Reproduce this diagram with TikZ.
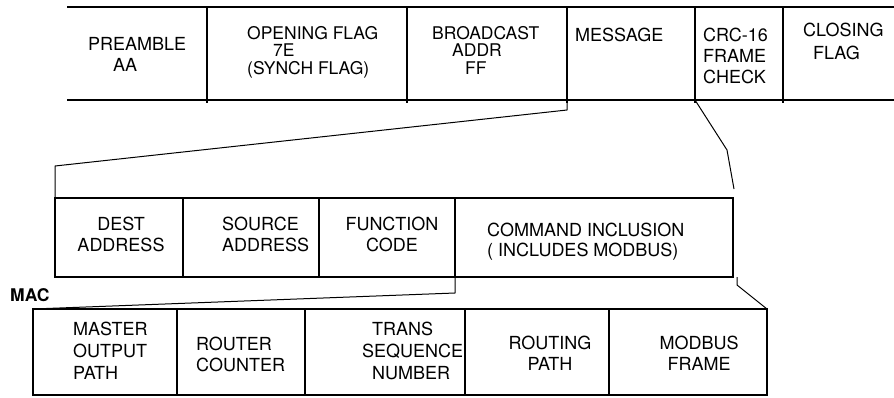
\documentclass[tikz,border=0pt]{standalone}
\usepackage{fontspec}
\setmainfont{TeX Gyre Heros}
\tikzset{
cell/.style={draw, line width=1.3pt, anchor=north west, inner sep=0pt, outer sep=0pt},
txt/.style={font=\fontsize{18}{#1}\selectfont, align=left, inner sep=0pt, anchor=north west},
txt/.default=21,
link/.style={line width=1pt, line join=round},
}
\begin{document}
\begin{tikzpicture}[x=1pt, y=-1pt]
\useasboundingbox (0,0) rectangle (894,397);
% frame on the wire
\draw[line width=1.5pt] (67,7) -- (894,7) (67,100) -- (894,100);
\foreach \x in {207,407,567,695,783}
\draw[line width=1.5pt] (\x,7) -- (\x,103);
\coordinate (msg) at (567,100);
\coordinate (crc) at (695,100);
\node[txt] (pre) at (88,37) {PREAMBLE\\\hspace*{25pt}AA};
\node[txt, font=\fontsize{17.5}{17.5}\selectfont] (oflag) at (247,26) {OPENING FLAG\\\hspace*{26pt}7E\\(SYNCH FLAG)};
\node[txt, font=\fontsize{17.5}{17.5}\selectfont] (bcast) at (432,26) {BROADCAST\\\hspace*{20pt}ADDR\\\hspace*{33pt}FF};
\node[txt] (msgT) at (575,28) {MESSAGE};
\node[txt] (crcT) at (703,28) {CRC-16\\FRAME\\CHECK};
\node[txt=23] (cflag) at (803,23) {CLOSING\\\hspace*{10pt}FLAG};
% message fields
\foreach \n/\a/\b in {dest/55/183,src/183/319,fcode/319/455,cmd/455/733}
\node[cell, minimum width={(\b-\a)*1pt}, minimum height=79pt] (\n) at (\a,198) {};
\node[txt, align=center, anchor=north] (destT) at (121,217) {DEST\\ADDRESS};
\node[txt] (srcT) at (222,217) {SOURCE\\ADDRESS};
\node[txt, align=center, anchor=north] (fcodeT) at (392,217) {FUNCTION\\CODE};
\node[txt=20] (cmdT) at (487,223) {COMMAND INCLUSION\\( INCLUDES MODBUS)};
% MAC fields
\foreach \n/\a/\b in {mop/33/177,rcnt/177/305,tsn/305/465,rpath/465/609,mframe/609/767}
\node[cell, minimum width={(\b-\a)*1pt}, minimum height=86pt] (\n) at (\a,309) {};
\node[txt=22] (mopT) at (73,322) {MASTER\\OUTPUT\\PATH};
\node[txt] (rcntT) at (196,337) {ROUTER\\COUNTER};
\node[txt=22] (tsnT) at (362,322) {\hspace*{10pt}TRANS\\SEQUENCE\\\hspace*{10pt}NUMBER};
\node[txt, align=center, anchor=north] (rpathT) at (550,336) {ROUTING\\PATH};
\node[txt, align=center, anchor=north] (mframeT) at (699,336) {MODBUS\\FRAME};
\node[txt, font=\fontsize{17.5}{20}\selectfont\bfseries] (mac) at (10,288) {MAC};
% expansion lines
\coordinate (crcEnd) at (734,189);
\coordinate (cmdR) at (737,277);
\draw[link] (msg) -- ++(0,10) -- (55,166) -- (dest.north west);
\draw[link] (crc) -- (727,150) -- (crcEnd);
\draw[link] (cmd.south west) -- ++(0,16) -- (mop.north west);
\draw[link] (cmdR) -- ++(0,8) -- (mframe.north east);
\end{tikzpicture}
\end{document}
